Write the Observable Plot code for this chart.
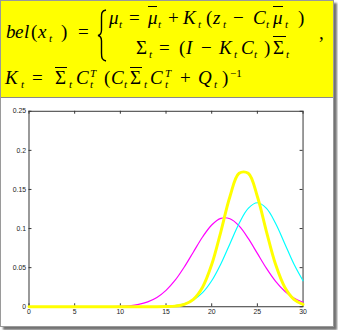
<!DOCTYPE html>
<html><head><meta charset="utf-8">
<script src="https://cdn.jsdelivr.net/npm/d3@7"></script>
<script src="https://cdn.jsdelivr.net/npm/@observablehq/plot@0.6"></script>
<style>
html,body{margin:0;padding:0;background:#fff;}
#panel{position:absolute;left:0;top:0;width:332px;height:325px;background:#fff;border:1px solid #9a9a9a;box-shadow:3px 3px 2px rgba(0,0,0,0.55);overflow:hidden;}
#eq{position:absolute;left:0;top:0;width:333px;height:96px;background:#ffff00;border-bottom:1px solid #8a8a8a;}
.ln{position:absolute;left:0;width:333px;height:20px;font-family:"Liberation Serif","Times New Roman",serif;color:#000;}
.ln span{position:absolute;white-space:nowrap;line-height:20px;}
.t{top:0;font-size:19px;font-style:italic;}
.u{top:0;font-size:19px;font-style:normal;}
.s{top:6.2px;font-size:11px;font-style:italic;}
.p{top:-4.3px;font-size:11px;font-style:italic;}
.pu{top:-4.3px;font-size:11px;font-style:normal;}
.b{top:-2.1px;height:0;border-top:1.2px solid #000;}
.b3{top:-0.6px;height:0;border-top:1.2px solid #000;}
#brace{position:absolute;left:0;top:0;}
#chart{position:absolute;left:0;top:98px;}
</style></head>
<body>
<div id="panel">
 <div id="eq">
  <div class="ln" style="top:20.6px">
   <span class="t" style="left:5px">b</span><span class="t" style="left:14px">e</span><span class="t" style="left:23px">l</span><span class="u" style="left:30px">(</span><span class="t" style="left:37px">x</span><span class="s" style="left:48px">t</span><span class="u" style="left:60px">)</span><span class="u" style="left:77px">=</span>
  </div>
  <svg id="brace" width="120" height="70"><path d="M105,9 C100,10 100.5,13 100.5,18 L100.5,29 C100.5,32 99.5,34 97,34.5 C99.5,35 100.5,37 100.5,40 L100.5,52 C100.5,57 101,59 105,60" fill="none" stroke="#000" stroke-width="1.4"/></svg>
  <div class="ln" style="top:6.6px">
   <span class="t" style="left:108px">μ</span><span class="s" style="left:118px">t</span><span class="u" style="left:128px">=</span><span class="b" style="left:147px;width:9px"></span><span class="t" style="left:147px">μ</span><span class="s" style="left:157px">t</span><span class="u" style="left:167px">+</span><span class="t" style="left:182px">K</span><span class="s" style="left:197px">t</span><span class="u" style="left:205px">(</span><span class="t" style="left:212px">z</span><span class="s" style="left:222px">t</span><span class="u" style="left:232px">−</span><span class="t" style="left:252px">C</span><span class="s" style="left:265px">t</span><span class="b" style="left:272px;width:10px"></span><span class="t" style="left:272px">μ</span><span class="s" style="left:284px">t</span><span class="u" style="left:297px">)</span>
  </div>
  <div class="ln" style="top:36.6px">
   <span class="u" style="left:135px">Σ</span><span class="s" style="left:148px">t</span><span class="u" style="left:158px">=</span><span class="u" style="left:178px">(</span><span class="t" style="left:185px">I</span><span class="u" style="left:200px">−</span><span class="t" style="left:218px">K</span><span class="s" style="left:233px">t</span><span class="t" style="left:240px">C</span><span class="s" style="left:253px">t</span><span class="u" style="left:263px">)</span><span class="b" style="left:272px;width:13px"></span><span class="u" style="left:272px">Σ</span><span class="s" style="left:285px">t</span>
  </div>
  <div class="ln" style="top:21.6px">
   <span class="u" style="left:318px">,</span>
  </div>
  <div class="ln" style="top:66.6px">
   <span class="t" style="left:4px">K</span><span class="s" style="left:20px">t</span><span class="u" style="left:31px">=</span><span class="b3" style="left:54px;width:12px"></span><span class="u" style="left:54px">Σ</span><span class="s" style="left:68px">t</span><span class="t" style="left:75px">C</span><span class="p" style="left:89px">T</span><span class="s" style="left:89px">t</span><span class="u" style="left:103px">(</span><span class="t" style="left:110px">C</span><span class="s" style="left:123px">t</span><span class="b3" style="left:129px;width:12px"></span><span class="u" style="left:129px">Σ</span><span class="s" style="left:143px">t</span><span class="t" style="left:149px">C</span><span class="p" style="left:164px">T</span><span class="s" style="left:164px">t</span><span class="u" style="left:179px">+</span><span class="t" style="left:197px">Q</span><span class="s" style="left:213px">t</span><span class="u" style="left:221px">)</span><span class="pu" style="left:229px">−1</span>
  </div>
 </div>
 <div id="chart"></div>
</div>
<script>
const xs = [0,1,2,3,4,5,6,7,8,9,10,11,12,13,14,15,16,17,18,19,20,21,22,23,24,25,26,27,28,29,30];
const magenta = [0,0,0,0,0,0,0,0,0.0001,0.0002,0.0005,0.0013,0.0030,0.0062,0.0118,0.0209,0.0339,0.0508,0.0701,0.0892,0.1046,0.1131,0.1126,0.1034,0.0874,0.0682,0.0490,0.0324,0.0198,0.0111,0.0058];
const cyan = [0,0,0,0,0,0,0,0,0,0,0,0,0,0,0.0002,0.0005,0.0015,0.0038,0.0087,0.0180,0.0332,0.0547,0.0807,0.1065,0.1258,0.1330,0.1258,0.1065,0.0807,0.0547,0.0332];
const yellow = [0,0,0,0,0,0,0,0,0,0,0,0,0,0,0,0.0002,0.0008,0.0030,0.0095,0.0250,0.0539,0.0959,0.1410,0.1708,0.1708,0.1410,0.0959,0.0539,0.0250,0.0095,0.0030];
const xTicks = [0,5,10,15,20,25,30];
const xTickLabels = ["0","5","10","15","20","25","30"];
const yTicks = [0,0.05,0.1,0.15,0.2,0.25];
const yTickLabels = ["0","0.05","0.1","0.15","0.2","0.25"];

const tbl = (vals) => xs.map((x,i) => ({x, y: vals[i]}));
const W = 338, H = 225, mt = 12, mb = 14, ml = 28, mr = 31;
const ph = H - mt - mb, pw = W - ml - mr;
const tick = 3;

const chart = Plot.plot({
  width: W, height: H,
  marginTop: mt, marginBottom: mb, marginLeft: ml, marginRight: mr,
  x: {domain: [0, 30]},
  y: {domain: [0, 0.25]},
  style: {background: "transparent", fontFamily: "Liberation Sans, Arial, sans-serif"},
  marks: [
    Plot.axisX({ticks: xTicks, tickSize: 0, tickPadding: 2, fontSize: 7, fill: "#222", label: null, tickFormat: (d) => xTickLabels[xTicks.indexOf(d)]}),
    Plot.axisY({ticks: yTicks, tickSize: 0, tickPadding: 3, fontSize: 7, fill: "#222", label: null, tickFormat: (d) => yTickLabels[yTicks.indexOf(d)]}),
    Plot.tickX(xTicks, {x: d => d, insetTop: ph - tick, stroke: "#333"}),
    Plot.tickX(xTicks, {x: d => d, insetBottom: ph - tick, stroke: "#333"}),
    Plot.tickY(yTicks, {y: d => d, insetRight: pw - tick, stroke: "#333"}),
    Plot.tickY(yTicks, {y: d => d, insetLeft: pw - tick, stroke: "#333"}),
    Plot.frame({stroke: "#333"}),
    Plot.line(tbl(magenta), {x: "x", y: "y", stroke: "#ff00ff", strokeWidth: 1.2, curve: "catmull-rom"}),
    Plot.line(tbl(cyan), {x: "x", y: "y", stroke: "#00ffff", strokeWidth: 1.2, curve: "catmull-rom"}),
    Plot.line(tbl(yellow), {x: "x", y: "y", stroke: "#ffff00", strokeWidth: 3, curve: "catmull-rom"})
  ]
});
document.getElementById("chart").appendChild(chart);
</script>
</body></html>
